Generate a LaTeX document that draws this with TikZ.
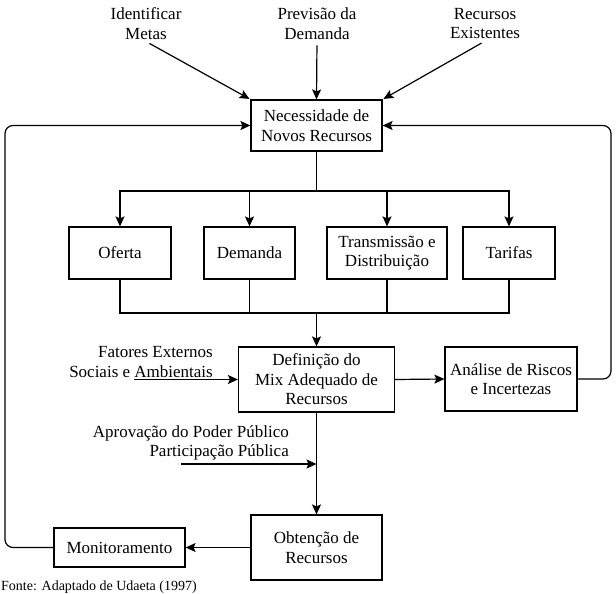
\documentclass[tikz,border=0pt]{standalone}
\usepackage{fontspec}
\setmainfont{Liberation Serif}
\usetikzlibrary{arrows.meta, calc}

\begin{document}
\begin{tikzpicture}[x=1pt, y=-1pt]
% Define styles
\tikzset{process box/.style={draw, line width=1.2pt, align=center, inner sep=2pt,
    font=\fontsize{17}{19.5}\selectfont},
  input label/.style={align=center, inner sep=2pt, font=\fontsize{17}{19.5}\selectfont},
  flow line/.style={line width=1.2pt},
  flow arrow/.style={line width=1.2pt, -{Stealth[length=10pt, width=9pt, inset=2pt]}}}

% Frame
\useasboundingbox (0,0) rectangle (616,594);
\clip (0,0) rectangle (616,594);

% Inputs on top
\node[input label] (metas) at (146,23.5) {Identificar\\Metas};
\node[input label] (previsao) at (317,23.5) {Previsão da\\Demanda};
\node[input label] (existentes) at (485,23.5) {Recursos\\Existentes};

% Main boxes
\node[process box, minimum width=131pt, minimum height=51pt] (need) at (316.5,125.5) {Necessidade de\\Novos Recursos};
\node[process box, minimum width=102pt, minimum height=52pt] (oferta) at (120,253) {Oferta};
\node[process box, minimum width=91pt, minimum height=52pt] (demanda) at (249.5,253) {Demanda};
\node[process box, minimum width=120pt, minimum height=52pt] (transdist) at (387,253) {Transmissão e\\Distribuição};
\node[process box, minimum width=92pt, minimum height=52pt] (tarifas) at (509,253) {Tarifas};
\node[process box, minimum width=156pt, minimum height=65pt] (mix) at (316.5,379.5) {Definição do\\Mix Adequado de\\Recursos};
\node[process box, minimum width=132pt, minimum height=64pt] (riscos) at (511,379) {Análise de Riscos\\e Incertezas};
\node[process box, minimum width=131pt, minimum height=65pt] (obtencao) at (316.5,547.5) {Obtenção de\\Recursos};
\node[process box, minimum width=131pt, minimum height=39pt] (monit) at (119.5,547.5) {Monitoramento};

% Side inputs
\node[input label, align=right, anchor=east] (externos) at (215,362) {Fatores Externos\\Sociais e Ambientais};
\node[input label, align=right, anchor=east] (publico) at (291,443) {Aprovação do Poder Público\\Participação Pública};

% Source
\node[anchor=base west, inner sep=0pt, font=\fontsize{14}{17}\selectfont] (fonte) at (1,590) {Fonte: Adaptado de Udaeta (1997)};

% Helper points
\coordinate (split) at (316.5,191);
\coordinate (merge) at (316.5,313);
\coordinate (loop left) at (5,125.5);
\coordinate (loop right) at (611,125.5);
\coordinate (ext in) at (134,379.5);
\coordinate (pub in) at (181,464);
\coordinate (pub join) at (316.5,464);

% Connectors
\draw[flow arrow, shorten <=4pt, shorten >=1pt] (metas.south) -- (need.north west);
\draw[flow arrow, shorten <=4pt] (previsao.south) -- (need.north);
\draw[flow arrow, shorten <=4pt, shorten >=1pt] (existentes.south) -- (need.north east);

\draw[flow line] (need.south) -- (split);
\foreach \b in {oferta, demanda, transdist, tarifas}
  \draw[flow arrow] (split) -| (\b.north);
\foreach \b in {oferta, demanda, transdist, tarifas}
  \draw[flow line] (\b.south) |- (merge);
\draw[flow arrow] (merge) -- (mix.north);

\draw[flow arrow] (ext in) -- (mix.west);
\draw[flow arrow] (mix.east) -- (riscos.west);
\draw[flow arrow] (mix.south) -- (obtencao.north);
\draw[flow arrow] (pub in) -- (pub join);
\draw[flow arrow] (obtencao.west) -- (monit.east);

% Feedback loops
\draw[flow arrow, rounded corners=8pt] (monit.west) -| (loop left) -- (need.west);
\draw[flow arrow, rounded corners=8pt] (riscos.east) -| (loop right) -- (need.east);
\end{tikzpicture}
\end{document}
